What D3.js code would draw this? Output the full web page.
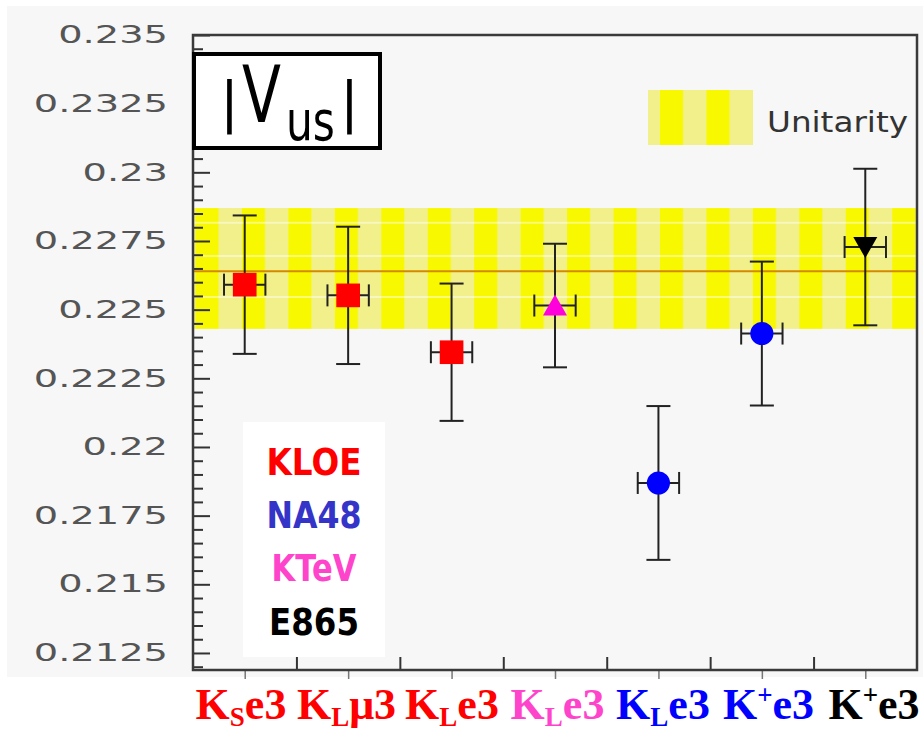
<!DOCTYPE html>
<html>
<head>
<meta charset="utf-8">
<script src="https://cdn.jsdelivr.net/npm/d3@7"></script>
<style>
  html, body { margin: 0; padding: 0; background: #ffffff; }
  svg { display: block; }
</style>
</head>
<body>
<svg id="chart" width="923" height="731"></svg>
<script>
// ---------------- data ----------------
const categories   = ["KSe3", "KLμ3", "KLe3", "KLe3", "KLe3", "K+e3", "K+e3"];
const experiments  = ["KLOE", "KLOE", "KLOE", "KTeV", "NA48", "NA48", "E865"];
const values       = [0.22591, 0.22552, 0.22345, 0.22515, 0.21869, 0.22413, 0.22728];
const errors       = [0.00252, 0.00250, 0.00250, 0.00225, 0.00280, 0.00262, 0.00285];
const xErrors      = [0.2, 0.2, 0.2, 0.2, 0.2, 0.2, 0.2];

const labelMain    = ["K", "K", "K", "K", "K", "K", "K"];
const labelScript  = ["S", "L", "L", "L", "L", "+", "+"];
const scriptType   = ["sub", "sub", "sub", "sub", "sub", "sup", "sup"];
const labelTail    = ["e3", "μ3", "e3", "e3", "e3", "e3", "e3"];

const legendNames  = ["KLOE", "NA48", "KTeV", "E865"];

const yTickValues  = [0.235, 0.2325, 0.23, 0.2275, 0.225, 0.2225, 0.22, 0.2175, 0.215, 0.2125];
const yTickLabels  = ["0.235", "0.2325", "0.23", "0.2275", "0.225", "0.2225", "0.22", "0.2175", "0.215", "0.2125"];

const unitarityCentral = 0.2264;
const unitarityLow     = 0.2243;
const unitarityHigh    = 0.2287;
const bandGlints       = [0.22816, 0.22695, 0.22546];

// ---------------- styles ----------------
const expColor  = { KLOE: "#ff0000", NA48: "#0000ff", KTeV: "#ff00dd", E865: "#000000" };
const expSymbol = { KLOE: "square", NA48: "circle", KTeV: "up", E865: "down" };
const legendTextColor = { KLOE: "#ff0000", NA48: "#3434c8", KTeV: "#ff44cc", E865: "#000000" };
const labelColors = ["#ff0000", "#ff0000", "#ff0000", "#ff44cc", "#0000ff", "#0000ff", "#000000"];

const svg = d3.select("#chart");
const L = 193, R = 917, T = 35, B = 670;

const x = d3.scaleLinear().domain([0, categories.length]).range([L, R]);
const y = d3.scaleLinear().domain([0.21188, 0.235]).range([B, T]);
const xLabel = d3.scalePoint().domain(d3.range(categories.length)).range([241, 874]);

// page backgrounds
svg.append("rect").attr("x", 0).attr("y", 0).attr("width", 923).attr("height", 731).attr("fill", "#ffffff");
svg.append("rect").attr("x", 7).attr("y", 6).attr("width", 916).attr("height", 671).attr("fill", "#f7f7f7");

// stripe pattern for unitarity band
const defs = svg.append("defs");
const pat = defs.append("pattern")
  .attr("id", "stripes")
  .attr("patternUnits", "userSpaceOnUse")
  .attr("x", 195.5).attr("y", 0)
  .attr("width", 46.45).attr("height", 1000);
pat.append("rect").attr("x", 0).attr("y", 0).attr("width", 46.45).attr("height", 1000).attr("fill", "#f2f08a");
pat.append("rect").attr("x", 0).attr("y", 0).attr("width", 23).attr("height", 1000).attr("fill", "#f8f800");

// band
svg.append("rect")
  .attr("x", L).attr("width", R - L)
  .attr("y", y(unitarityHigh)).attr("height", y(unitarityLow) - y(unitarityHigh))
  .attr("fill", "url(#stripes)");
svg.selectAll("line.glint").data(bandGlints).enter().append("line")
  .attr("class", "glint")
  .attr("x1", L).attr("x2", R)
  .attr("y1", d => y(d)).attr("y2", d => y(d))
  .attr("stroke", "#ffffff").attr("stroke-opacity", 0.45).attr("stroke-width", 2);
svg.append("line")
  .attr("x1", L).attr("x2", R)
  .attr("y1", y(unitarityCentral)).attr("y2", y(unitarityCentral))
  .attr("stroke", "#d38a00").attr("stroke-width", 2);

// y axis major ticks (inward) with labels
const yAxis = d3.axisLeft(y).tickValues(yTickValues).tickSize(-17).tickPadding(25)
  .tickFormat((d, i) => yTickLabels[i]);
const gy = svg.append("g").attr("transform", `translate(${L},0)`).call(yAxis);
gy.select(".domain").remove();
gy.selectAll(".tick line").attr("stroke", "#333").attr("stroke-width", 2);
gy.selectAll(".tick text")
  .attr("font-family", "DejaVu Sans, sans-serif")
  .attr("font-size", 24)
  .attr("fill", "#555")
  .attr("x", -25 / 1.6)
  .attr("transform", "scale(1.6,1)");

// y minor ticks
const minor = d3.range(0, 46).map(i => +(0.2120 + i * 0.0005).toFixed(4)).filter(v => v >= 0.21188 && v <= 0.235 && !yTickValues.some(t => Math.abs(t - v) < 1e-6));
const yMinor = d3.axisLeft(y).tickValues(minor).tickSize(-10).tickFormat("");
const gym = svg.append("g").attr("transform", `translate(${L},0)`).call(yMinor);
gym.select(".domain").remove();
gym.selectAll(".tick line").attr("stroke", "#333").attr("stroke-width", 2);

// x axis ticks at bin boundaries (inward)
const xAxis = d3.axisBottom(x).tickValues(d3.range(1, categories.length)).tickSize(-13).tickFormat("");
const gx = svg.append("g").attr("transform", `translate(0,${B})`).call(xAxis);
gx.select(".domain").remove();
gx.selectAll(".tick line").attr("stroke", "#333").attr("stroke-width", 2);
// small marks below axis at bin centres
const xAxis2 = d3.axisBottom(x).tickValues(d3.range(categories.length).map(i => i + 0.5)).tickSize(8).tickFormat("");
const gx2 = svg.append("g").attr("transform", `translate(0,${B + 1})`).call(xAxis2);
gx2.select(".domain").remove();
gx2.selectAll(".tick line").attr("stroke", "#777").attr("stroke-width", 1.5);

// frame
svg.append("rect")
  .attr("x", L).attr("y", T).attr("width", R - L).attr("height", B - T)
  .attr("fill", "none").attr("stroke", "#3a3a3a").attr("stroke-width", 2.5);

// ---------------- data points ----------------
const pts = values.map((v, i) => ({ i, v, e: errors[i], xe: xErrors[i], exp: experiments[i] }));
const g = svg.append("g");
const eb = g.selectAll("g.pt").data(pts).enter().append("g").attr("class", "pt");
const stroke = "#222", sw = 2;
eb.append("line")
  .attr("x1", d => x(d.i + 0.5)).attr("x2", d => x(d.i + 0.5))
  .attr("y1", d => y(d.v + d.e)).attr("y2", d => y(d.v - d.e))
  .attr("stroke", stroke).attr("stroke-width", sw);
eb.append("line")
  .attr("x1", d => x(d.i + 0.5) - 12).attr("x2", d => x(d.i + 0.5) + 12)
  .attr("y1", d => y(d.v + d.e)).attr("y2", d => y(d.v + d.e))
  .attr("stroke", stroke).attr("stroke-width", sw);
eb.append("line")
  .attr("x1", d => x(d.i + 0.5) - 12).attr("x2", d => x(d.i + 0.5) + 12)
  .attr("y1", d => y(d.v - d.e)).attr("y2", d => y(d.v - d.e))
  .attr("stroke", stroke).attr("stroke-width", sw);
eb.append("line")
  .attr("x1", d => x(d.i + 0.5 - d.xe)).attr("x2", d => x(d.i + 0.5 + d.xe))
  .attr("y1", d => y(d.v)).attr("y2", d => y(d.v))
  .attr("stroke", stroke).attr("stroke-width", sw);
eb.append("line")
  .attr("x1", d => x(d.i + 0.5 - d.xe)).attr("x2", d => x(d.i + 0.5 - d.xe))
  .attr("y1", d => y(d.v) - 11).attr("y2", d => y(d.v) + 11)
  .attr("stroke", stroke).attr("stroke-width", sw);
eb.append("line")
  .attr("x1", d => x(d.i + 0.5 + d.xe)).attr("x2", d => x(d.i + 0.5 + d.xe))
  .attr("y1", d => y(d.v) - 11).attr("y2", d => y(d.v) + 11)
  .attr("stroke", stroke).attr("stroke-width", sw);
eb.each(function (d) {
  const sel = d3.select(this);
  const cx = x(d.i + 0.5), cy = y(d.v), col = expColor[d.exp];
  const sym = expSymbol[d.exp];
  if (sym === "square") {
    sel.append("path").attr("d", d3.symbol(d3.symbolSquare, 560)()).attr("transform", `translate(${cx},${cy})`).attr("fill", col);
  } else if (sym === "circle") {
    sel.append("path").attr("d", d3.symbol(d3.symbolCircle, 420)()).attr("transform", `translate(${cx},${cy})`).attr("fill", col);
  } else if (sym === "up") {
    sel.append("path").attr("d", "M0,-11L12,10L-12,10Z").attr("transform", `translate(${cx},${cy})`).attr("fill", col);
  } else {
    sel.append("path").attr("d", "M0,11L12,-10L-12,-10Z").attr("transform", `translate(${cx},${cy})`).attr("fill", col);
  }
});

// ---------------- title box |Vus| ----------------
svg.append("rect").attr("x", 194).attr("y", 54).attr("width", 186).attr("height", 94)
  .attr("fill", "#ffffff").attr("stroke", "#000").attr("stroke-width", 4);
const tf = "DejaVu Sans, sans-serif";
svg.append("text").attr("transform", "translate(220,121)")
  .attr("font-family", tf).attr("font-size", 56).attr("fill", "#000").text("|");
svg.append("text").attr("transform", "translate(242,122) scale(0.73,1)")
  .attr("font-family", tf).attr("font-size", 78).attr("fill", "#000").text("V");
svg.append("text").attr("transform", "translate(286,140) scale(0.77,1)")
  .attr("font-family", tf).attr("font-size", 55).attr("fill", "#000").text("us");
svg.append("text").attr("transform", "translate(340,121)")
  .attr("font-family", tf).attr("font-size", 56).attr("fill", "#000").text("|");

// ---------------- unitarity legend ----------------
svg.append("rect").attr("x", 648).attr("y", 90).attr("width", 105).attr("height", 55).attr("fill", "url(#stripes)");
svg.append("text").attr("x", 767).attr("y", 132)
  .attr("font-family", "DejaVu Sans, sans-serif").attr("font-size", 29).attr("fill", "#333")
  .attr("textLength", 141).attr("lengthAdjust", "spacingAndGlyphs").text("Unitarity");

// ---------------- experiment legend ----------------
svg.append("rect").attr("x", 243).attr("y", 422).attr("width", 142).attr("height", 235).attr("fill", "#ffffff");
const legY = [475, 528, 581, 635];
const legW = [95, 95, 85, 90];
legendNames.forEach((n, i) => {
  svg.append("text").attr("x", 314 - legW[i] / 2).attr("y", legY[i])
    .attr("font-family", "DejaVu Sans, sans-serif").attr("font-weight", "bold")
    .attr("font-size", 37).attr("fill", legendTextColor[n])
    .attr("textLength", legW[i]).attr("lengthAdjust", "spacingAndGlyphs").text(n);
});

// ---------------- category labels ----------------
const lab = svg.selectAll("text.cat").data(categories).enter().append("text")
  .attr("class", "cat")
  .attr("x", (d, i) => xLabel(i)).attr("y", 719)
  .attr("text-anchor", "middle")
  .attr("font-family", "Liberation Serif, Times New Roman, serif")
  .attr("font-weight", "bold").attr("font-size", 44)
  .attr("fill", (d, i) => labelColors[i]);
lab.each(function (d, i) {
  const t = d3.select(this);
  t.append("tspan").text(labelMain[i]);
  if (scriptType[i] === "sub") {
    t.append("tspan").attr("font-size", 27).attr("dy", 7).text(labelScript[i]);
    t.append("tspan").attr("dy", -7).text(labelTail[i]);
  } else {
    t.append("tspan").attr("font-size", 27).attr("dy", -15).text(labelScript[i]);
    t.append("tspan").attr("dy", 15).text(labelTail[i]);
  }
});
</script>
</body>
</html>
